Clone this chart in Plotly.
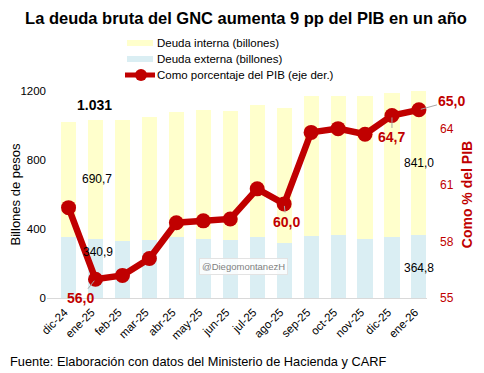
import plotly.graph_objects as go

meses = ["dic-24", "ene-25", "feb-25", "mar-25", "abr-25", "may-25", "jun-25",
         "jul-25", "ago-25", "sep-25", "oct-25", "nov-25", "dic-25", "ene-26"]
deuda_interna = [667, 690.7, 702, 714, 725, 748, 750, 767, 783, 814, 806, 831, 835, 841.0]
deuda_externa = [355, 340.9, 330, 336, 355, 342, 336, 352, 317, 359, 365, 340, 352, 364.8]
pct_pib = [59.8, 56.0, 56.2, 57.1, 59.0, 59.1, 59.2, 60.8, 60.0, 63.8, 64.0, 63.7, 64.7, 65.0]

RED = "#C00000"
YEL = "#FFFFCC"
BLU = "#DAEEF3"
FONT = "Liberation Sans, Arial, sans-serif"

# screen geometry of plot area (page pixels), used for legend/footer placement
PL, PR, PT, PB = 47, 427, 91, 298
def px(sx, sy):
    return (sx - PL) / (PR - PL), (PB - sy) / (PB - PT)

fig = go.Figure()
fig.add_trace(go.Bar(x=meses, y=deuda_externa, name="Deuda externa (billones)",
                     marker=dict(color=BLU, line=dict(width=0)), showlegend=False))
fig.add_trace(go.Bar(x=meses, y=deuda_interna, name="Deuda interna (billones)",
                     marker=dict(color=YEL, line=dict(width=0)), showlegend=False))
fig.add_trace(go.Scatter(x=meses, y=pct_pib, name="Como porcentaje del PIB (eje der.)",
                         yaxis="y2", mode="lines+markers",
                         line=dict(color=RED, width=6.5),
                         marker=dict(color=RED, size=15), showlegend=False))

ann = []
shapes = []
i0, i1 = 1, 13
tot0 = deuda_interna[i0] + deuda_externa[i0]
tot1 = deuda_interna[i1] + deuda_externa[i1]
def fmt_tot(v):
    return f"{int(v) / 1000:.3f}"
def fmt_dec(v):
    return f"{v:.1f}".replace(".", ",")

ann.append(dict(x=meses[i0], y=tot0, text=f"<b>{fmt_tot(tot0)}</b>", showarrow=False,
                yshift=15, xshift=-1, font=dict(size=14, color="black")))
ann.append(dict(x=meses[i1], y=tot1, text=f"<b>{fmt_tot(tot1)}</b>", showarrow=False,
                yshift=16, xshift=1, font=dict(size=14, color="black")))
ann.append(dict(x=meses[i0], y=deuda_externa[i0] + deuda_interna[i0] / 2, text=fmt_dec(deuda_interna[i0]),
                showarrow=False, xshift=1, yshift=1, font=dict(size=12, color="black")))
ann.append(dict(x=meses[i0], y=deuda_externa[i0] / 2, text=fmt_dec(deuda_externa[i0]),
                showarrow=False, xshift=2, yshift=17, font=dict(size=12, color="black")))
ann.append(dict(x=meses[i1], y=deuda_externa[i1] + deuda_interna[i1] / 2, text=fmt_dec(deuda_interna[i1]),
                showarrow=False, xshift=0, yshift=0, font=dict(size=12, color="black")))
ann.append(dict(x=meses[i1], y=deuda_externa[i1] / 2, text=fmt_dec(deuda_externa[i1]),
                showarrow=False, xshift=0, yshift=-1, font=dict(size=12, color="black")))

for idx, ax_, ay_ in [(1, -15, 19), (8, 2, 18), (12, 0, 22), (13, 33, -9)]:
    ann.append(dict(x=meses[idx], y=pct_pib[idx], yref="y2", text=f"<b>{fmt_dec(pct_pib[idx])}</b>",
                    showarrow=True, arrowhead=0, arrowwidth=1, arrowcolor="#A6A6A6",
                    standoff=2, ax=ax_, ay=ay_, font=dict(size=14, color=RED)))

wx, wy = px(243, 275)
ann.append(dict(x=wx, y=wy, xref="paper", yref="paper", text="@DiegomontanezH", showarrow=False,
                font=dict(size=9.5, color="#7F7F7F", family=FONT), bgcolor="rgba(255,255,255,0.8)",
                bordercolor="#E3E3E3", borderwidth=1, borderpad=2))

fx, fy = px(8, 361)
ann.append(dict(x=fx, y=fy, xref="paper", yref="paper", xanchor="left", yanchor="middle",
                text="Fuente: Elaboración con datos del Ministerio de Hacienda y CARF",
                showarrow=False, font=dict(size=12.8, color="black")))

# custom legend (Excel-like symbols)
legend_rows = [("Deuda interna (billones)", YEL, "rect", 43),
               ("Deuda externa (billones)", BLU, "rect", 59),
               ("Como porcentaje del PIB (eje der.)", RED, "line", 75)]
for label, col, kind, sy in legend_rows:
    tx, ty = px(155, sy)
    ann.append(dict(x=tx, y=ty, xref="paper", yref="paper", xanchor="left", yanchor="middle",
                    text=label, showarrow=False, font=dict(size=11.5, color="black")))
    if kind == "rect":
        x0, y0 = px(127, sy + 3)
        x1, y1 = px(153, sy - 3)
        shapes.append(dict(type="rect", xref="paper", yref="paper", x0=x0, y0=y0, x1=x1, y1=y1,
                           fillcolor=col, line=dict(width=0)))
    else:
        x0, y0 = px(125, sy)
        x1, _ = px(155, sy)
        shapes.append(dict(type="line", xref="paper", yref="paper", x0=x0, y0=y0, x1=x1, y1=y0,
                           line=dict(color=col, width=5)))
        cx0, cy0 = px(135, sy + 6)
        cx1, cy1 = px(147, sy - 6)
        shapes.append(dict(type="circle", xref="paper", yref="paper", x0=cx0, y0=cy0, x1=cx1, y1=cy1,
                           fillcolor=col, line=dict(width=0)))

fig.update_layout(
    width=476, height=365,
    margin=dict(l=39, r=57, t=83, b=75, autoexpand=False),
    paper_bgcolor="white", plot_bgcolor="white",
    font=dict(family=FONT, size=12, color="black"),
    title=dict(text="<b>La deuda bruta del GNC aumenta 9 pp del PIB en un año</b>",
               x=0.5, xanchor="center", y=0.9726, yanchor="middle",
               font=dict(size=16.5, color="black")),
    barmode="stack", bargap=0.44,
    showlegend=False,
    xaxis=dict(type="category", tickangle=-45, showgrid=False, showline=True,
               linecolor="#D9D9D9", ticks="", tickfont=dict(size=11.5), range=[-0.8, 13.3],
               ticklabelshift=-4, ticklabelstandoff=2),
    yaxis=dict(range=[0, 1200], tickvals=[0, 400, 800, 1200], showgrid=False, zeroline=False,
               title=dict(text="Billones de pesos", font=dict(size=13), standoff=9),
               tickfont=dict(size=11.5), ticks=""),
    yaxis2=dict(range=[55, 66], tickvals=[55, 58, 61, 64], overlaying="y", side="right",
                showgrid=False, zeroline=False, tickfont=dict(size=12, color=RED),
                ticklabelstandoff=12,
                title=dict(text="<b>Como % del PIB</b>", font=dict(size=14, color=RED), standoff=9)),
    annotations=ann,
    shapes=shapes,
)

fig.write_html("out.html")
